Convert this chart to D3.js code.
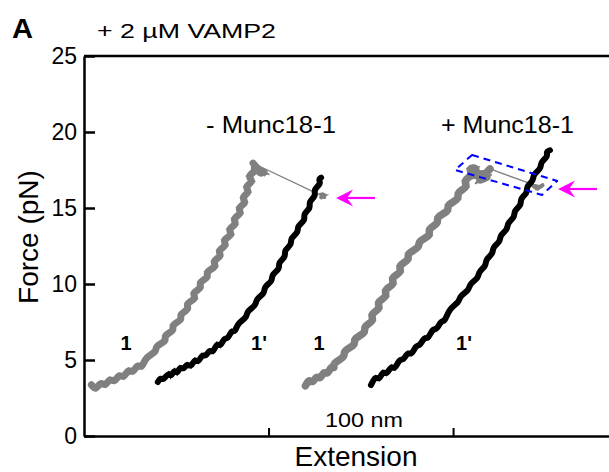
<!DOCTYPE html>
<html>
<head>
<meta charset="utf-8">
<script src="https://cdn.jsdelivr.net/npm/d3@7"></script>
<style>
  html, body { margin: 0; padding: 0; background: #fff; }
  svg { display: block; font-family: "Liberation Sans", Arial, Helvetica, sans-serif; }
</style>
</head>
<body>
<svg id="chart" width="609" height="472"></svg>
<script>
// Force–extension traces, [extension (nm), force (pN)]
// Without Munc18-1: pulling trace (gray) before the unfolding jump, after it, and relaxation (black)
const grayMinus = [[4,3.37],[6.5,2.99],[9,3.61],[11.5,3.23],[14,3.85],[16.5,3.48],[19,4.11],[21.5,3.77],[24,4.44],[26.5,4.10],[29,4.76],[31.5,4.43],
  [33.2,5.2],[39.7,5.55],[38.2,5.9],[45.2,6.25],[42.8,6.6],[49.4,6.95],[47.0,7.3],[53.7,7.65],[51.3,8.0],[57.5,8.35],[54.7,8.7],[61.4,9.05],[58.1,9.4],
  [64.3,9.75],[61.7,10.1],[68.1,10.45],[65.5,10.8],[72.4,11.15],[69.2,11.5],[75.1,11.85],[72.0,12.2],[77.9,12.55],[74.7,12.9],[81.1,13.25],[77.5,13.6],
  [83.3,13.95],[80.1,14.3],[86.0,14.65],[82.8,15.0],[88.5,15.35],[84.9,15.7],[90.3,16.05],[86.7,16.4],[92.4,16.75],[88.1,17.1],[93.9,17.45],[90.6,17.8],
  [100.5,17.2],[93,17.5],[98,17.1],[91.6,17.95]];
const grayMinusAfter = [[129.0,15.8],[131,15.65],[127.5,15.95],[131.5,15.85],[128.5,15.7]];
const blackMinus = [[40,3.55],[41.5,3.85],[43,3.65],[46,4.2],[47,3.85],[49,4.4],[50.5,4.05],[52,4.6],[54,4.35],[56,4.8],[58,4.5],[60,5.1],[62,4.8],
  [64,5.4],[66,5.2],[68,5.7],[70,5.45],[72,6.15],[74,5.85],[76,6.5],[78,6.35],[80,7.0],[82,6.8],
  [82.9,7.4],[88.5,7.8],[88.0,8.2],[93.5,8.6],[93.0,9.0],[98.2,9.4],[97.3,9.8],[102.4,10.2],[101.4,10.6],[106.4,11.0],[105.0,11.4],[109.6,11.8],
  [108.2,12.2],[112.8,12.6],[111.6,13.0],[116.4,13.4],[115.3,13.8],[120.2,14.2],[118.6,14.6],[123.1,15.0],[121.5,15.4],[125.9,15.8],[124.2,16.2],
  [128.6,16.6],[127.0,16.9],[128.5,17.0]];

// With Munc18-1
const grayPlus = [[120,3.3],[122,3.75],[124,3.45],[126,4.0],[128,3.7],[130,4.3],[132,4.0],[134,4.65],[136,4.4],[134.5,4.8],[142,5.2],[140,5.6],
  [147.7,6.0],[145.5,6.4],[153.3,6.8],[151,7.2],[157.8,7.6],[154.6,8.0],[161.3,8.4],[158.1,8.8],[165,9.2],[161.9,9.6],[169,10.0],[165.7,10.4],
  [172.9,10.8],[169.7,11.2],[177,11.6],[174.3,12.0],[182.4,12.4],[180.5,12.8],[188.6,13.2],[185.7,13.6],[192.8,14.0],[190.3,14.4],[198.5,14.8],
  [196,15.2],[204,15.6],[201.4,16.0],[208.6,16.4],[205.1,16.8],[211.5,17.2],[207.7,17.6],[214,17.7],[210,16.9],[218,17.5],[212,16.6],[221,17.2],
  [214,16.8],[220,17.57]];
const grayPlusAfter = [[242.3,16.58],[245,16.3],[243.5,16.5],[247.5,16.35],[244.5,16.2],[248.5,16.5]];
const blackPlus = [[155.5,3.35],[158,3.95],[160,3.65],[162,4.3],[164,4.0],[166.5,4.65],[168.5,4.35],[171,5.1],[173,4.95],[175.5,5.55],[177.5,5.3],
  [180,6.0],[182,5.9],[184.5,6.55],[186.5,6.35],[189,7.1],[191,6.95],[193.5,7.6],[195.5,7.5],[198,8.4],[203.4,8.8],[203.5,9.2],[208.8,9.6],
  [208.8,10.0],[213.9,10.4],[213.7,10.8],[218.1,11.2],[217.4,11.6],[221.9,12.0],[221.2,12.4],[225.8,12.8],[225.2,13.2],[229.8,13.6],[229.2,14.0],
  [233.6,14.4],[232.8,14.8],[237.2,15.2],[236.2,15.6],[240.5,16.0],[239.5,16.4],[243.7,16.8],[243.2,17.2],[247.9,17.6],[247.2,18.0],[251.6,18.4],
  [250.3,18.7],[252.5,18.8]];

// Axis ticks
const forceTicks = [0, 5, 10, 15, 20, 25];
const extensionTicks = [100, 200];

// Annotation anchors (data space)
const arrowMinus = { tip: [136.6, 15.66], tail: [157.7, 15.66] };
const arrowPlus  = { tip: [256.9, 16.25], tail: [278.0, 16.25] };
const boxPlus = [[210.3, 18.49], [256.4, 16.78], [248.2, 15.86], [201.1, 17.5]];

const svg = d3.select("#chart");
const x = d3.scaleLinear().domain([0, 284.5]).range([84, 609]);
const y = d3.scaleLinear().domain([0, 25]).range([436, 56]);
const line = d3.line().x(d => x(d[0])).y(d => y(d[1]));
const smooth = d3.line().x(d => x(d[0])).y(d => y(d[1])).curve(d3.curveBasis);

// Frame: top border
svg.append("line")
  .attr("x1", x(0)).attr("x2", x(284.5))
  .attr("y1", y(25)).attr("y2", y(25))
  .attr("stroke", "#000").attr("stroke-width", 2.5);

// Y axis
const yAxis = svg.append("g").attr("transform", `translate(${x(0)},0)`)
  .call(d3.axisLeft(y).tickValues(forceTicks).tickSizeInner(-11).tickSizeOuter(0).tickPadding(7));
yAxis.select(".domain").attr("stroke-width", 2.5);
yAxis.selectAll(".tick line").attr("stroke-width", 2.5);
yAxis.selectAll("text").attr("font-size", 23).attr("font-family", "Liberation Sans, Arial, sans-serif").attr("fill", "#000");

// X axis
const xAxis = svg.append("g").attr("transform", `translate(0,${y(0)})`)
  .call(d3.axisBottom(x).tickValues(extensionTicks).tickSizeInner(-8).tickSizeOuter(0).tickFormat(""));
xAxis.select(".domain").attr("stroke-width", 2.5);
xAxis.selectAll(".tick line").attr("stroke-width", 2);

// Traces: a solid band through the noisy samples, with the raw jagged samples on top
function trace(data, color, w) {
  svg.append("path").datum(data).attr("d", smooth)
    .attr("fill", "none").attr("stroke", color)
    .attr("stroke-width", w).attr("stroke-linejoin", "round").attr("stroke-linecap", "round");
  svg.append("path").datum(data).attr("d", line)
    .attr("fill", "none").attr("stroke", color)
    .attr("stroke-width", 1.6).attr("stroke-linejoin", "miter").attr("stroke-miterlimit", 4);
}
function jump(a, b) {
  svg.append("path").datum([a, b]).attr("d", line)
    .attr("fill", "none").attr("stroke", "#808080").attr("stroke-width", 1.3);
}
const GRAY = "#808080";
trace(grayMinus, GRAY, 7);
jump(grayMinus[grayMinus.length - 1], grayMinusAfter[0]);
trace(grayMinusAfter, GRAY, 4);
trace(blackMinus, "#000", 6);
trace(grayPlus, GRAY, 7.5);
jump(grayPlus[grayPlus.length - 1], grayPlusAfter[0]);
trace(grayPlusAfter, GRAY, 4);
trace(blackPlus, "#000", 6);

// Dashed box around the unfolding event with Munc18-1
svg.append("path").datum(boxPlus)
  .attr("d", d3.line().x(d => x(d[0])).y(d => y(d[1])).curve(d3.curveLinearClosed))
  .attr("fill", "none").attr("stroke", "#0000ff").attr("stroke-width", 2)
  .attr("stroke-dasharray", "7,5").attr("stroke-linejoin", "round");

// Magenta arrows pointing at the unfolding transitions
function arrow(a) {
  const tx = x(a.tip[0]), ty = y(a.tip[1]), ex = x(a.tail[0]);
  svg.append("line").attr("x1", tx + 10).attr("x2", ex).attr("y1", ty).attr("y2", ty)
    .attr("stroke", "#ff00ff").attr("stroke-width", 2.2);
  svg.append("path")
    .attr("d", `M${tx},${ty} L${tx + 17},${ty - 8.5} L${tx + 11},${ty} L${tx + 17},${ty + 8.5} Z`)
    .attr("fill", "#ff00ff");
}
arrow(arrowMinus);
arrow(arrowPlus);

// Text
function label(txt, px, py, size, opts = {}) {
  const t = svg.append("text").attr("x", px).attr("y", py).attr("font-size", size)
    .attr("fill", "#000").text(txt);
  if (opts.bold) t.attr("font-weight", "bold");
  if (opts.anchor) t.attr("text-anchor", opts.anchor);
  if (opts.len) t.attr("textLength", opts.len).attr("lengthAdjust", "spacingAndGlyphs");
  return t;
}
label("A", 12, 38, 27, { bold: true, len: 21 });
label("+ 2 µM VAMP2", 97, 38, 21, { len: 179 });
label("- Munc18-1", 206, 133, 23, { len: 130 });
label("+ Munc18-1", 441, 133, 23, { len: 133 });
label("1", 126, 350, 20, { bold: true, anchor: "middle" });
label("1'", 259, 350, 20, { bold: true, anchor: "middle" });
label("1", 319, 350, 20, { bold: true, anchor: "middle" });
label("1'", 464, 350, 20, { bold: true, anchor: "middle" });
label("100 nm", 325, 427, 21, { len: 78 });
label("Extension", 356, 466, 28, { anchor: "middle" });
svg.append("text")
  .attr("transform", "translate(38,237) rotate(-90)")
  .attr("text-anchor", "middle").attr("font-size", 28).attr("fill", "#000")
  .text("Force (pN)");
</script>
</body>
</html>
